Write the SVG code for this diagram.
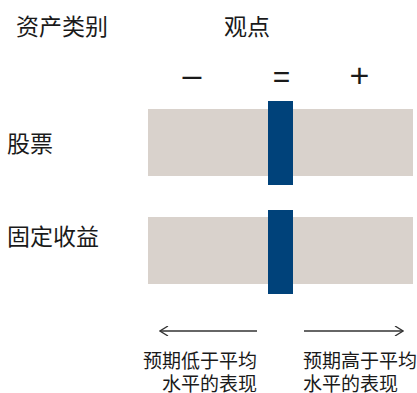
<svg xmlns="http://www.w3.org/2000/svg" width="417" height="393" viewBox="0 0 417 393">
<defs>
<style>
text{font-family:"Noto Sans CJK SC","Microsoft YaHei",sans-serif;fill:#1a1a1a}
.h{font-size:23px}
.s{font-family:"Liberation Sans","Noto Sans CJK SC",sans-serif}
.b{font-size:19px}
.bar{fill:#d9d2cc}
.mark{fill:#00427a}
.arr{stroke:#333;stroke-width:1.3;fill:none}
</style>
<marker id="ah" viewBox="0 0 10 10" refX="9" refY="5" markerWidth="10" markerHeight="10" markerUnits="userSpaceOnUse" orient="auto-start-reverse">
<path d="M1,0 L9,5 L1,10" fill="none" stroke="#333" stroke-width="1.3"/>
</marker>
</defs>
<rect width="417" height="393" fill="#fff"/>
<g id="headers">
<text class="h" x="16" y="35">资产类别</text>
<text class="h" x="224" y="35">观点</text>
<text class="s" x="192" y="86" font-size="34" text-anchor="middle">–</text>
<text class="s" x="281.5" y="86.5" font-size="30" text-anchor="middle">=</text>
<text class="s" x="359.5" y="87" font-size="34" text-anchor="middle">+</text>
</g>
<g id="row-equity">
<text class="h" x="7" y="152">股票</text>
<rect class="bar" x="148" y="109" width="265" height="67"/>
<rect class="mark" x="268" y="101" width="25" height="84"/>
</g>
<g id="row-fixed-income">
<text class="h" x="7" y="245">固定收益</text>
<rect class="bar" x="148" y="217" width="265" height="67"/>
<rect class="mark" x="268" y="210" width="25" height="84"/>
</g>
<g id="connectors">
<line class="arr" x1="257" y1="331" x2="160" y2="331" marker-end="url(#ah)"/>
<line class="arr" x1="304" y1="331" x2="403" y2="331" marker-end="url(#ah)"/>
</g>
<g id="legend">
<text class="b" x="257" y="368" text-anchor="end">预期低于平均</text>
<text class="b" x="257" y="391" text-anchor="end">水平的表现</text>
<text class="b" x="303" y="368">预期高于平均</text>
<text class="b" x="303" y="391">水平的表现</text>
</g>
</svg>
